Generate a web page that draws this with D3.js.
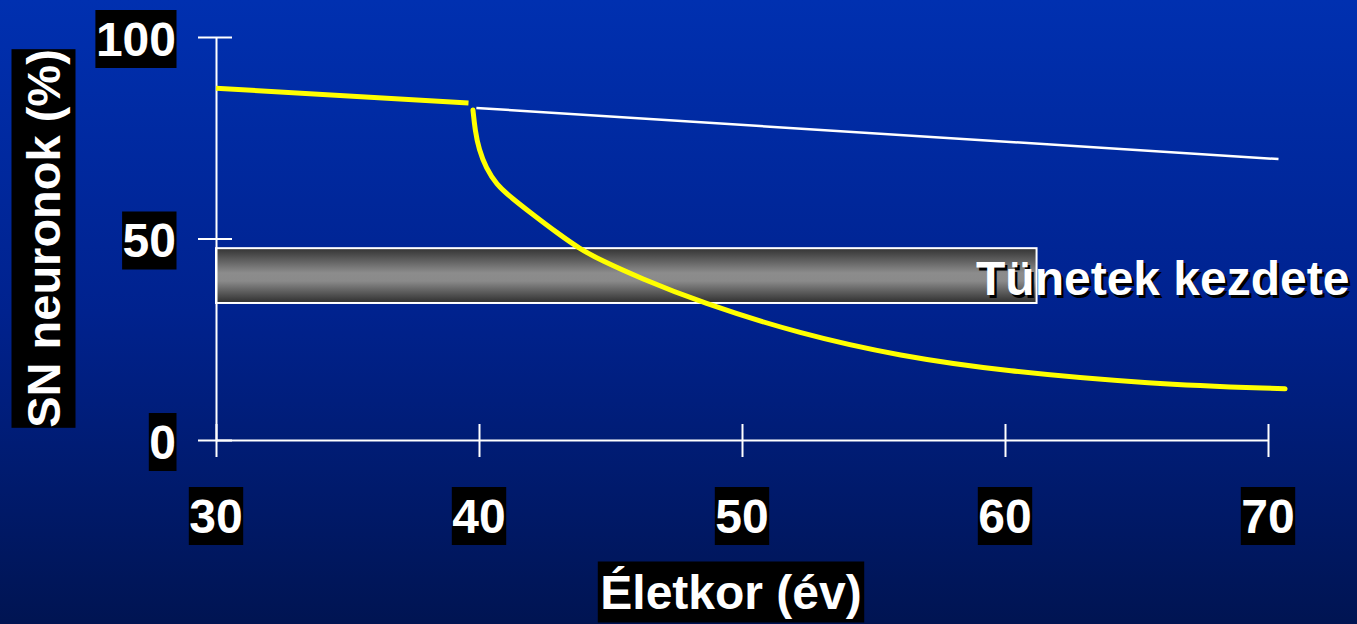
<!DOCTYPE html>
<html>
<head>
<meta charset="utf-8">
<script src="https://cdn.jsdelivr.net/npm/d3@7"></script>
<style>
  html, body { margin: 0; padding: 0; }
  svg { display: block; }
  text { font-family: "Liberation Sans", Arial, sans-serif; font-weight: bold; }
</style>
</head>
<body>
<div id="chart"></div>
<script>
const ageTicks = [30, 40, 50, 60, 70];
const pctTicks = [0, 50, 100];

// normal ageing before the split, then the healthy continuation
const earlyAge = [30, 39.6];
const earlyPct = [87.3, 83.6];
const agingAge = [39.9, 70.4];
const agingPct = [82.4, 69.7];

// accelerated loss curve
const pdAge = [39.77, 39.85, 40.0, 40.27, 40.65, 41.25, 42.02, 42.97, 43.84, 44.6, 46.12, 48.4, 52.21, 56.01, 59.96, 65.51, 70.65];
const pdPct = [81.9, 76.9, 72.0, 67.5, 63.5, 60.0, 56.1, 51.4, 47.4, 44.7, 40.2, 34.2, 26.3, 20.8, 17.1, 13.9, 12.7];

// symptom threshold band
const bandAge = [30, 61.2];
const bandPct = [34, 47.6];
const bandLabel = 'Tünetek kezdete';

const xTitle = 'Életkor (év)';
const yTitle = 'SN neuronok (%)';

const width = 1357;
const height = 624;

const svg = d3.select('#chart').append('svg').attr('width', width).attr('height', height);
const defs = svg.append('defs');

const bg = defs.append('linearGradient').attr('id', 'bg').attr('x1', 0).attr('y1', 0).attr('x2', 0).attr('y2', 1);
bg.append('stop').attr('offset', '0%').attr('stop-color', '#0030b0');
bg.append('stop').attr('offset', '50%').attr('stop-color', '#00228e');
bg.append('stop').attr('offset', '100%').attr('stop-color', '#001452');

const bandGrad = defs.append('linearGradient').attr('id', 'band').attr('x1', 0).attr('y1', 0).attr('x2', 0).attr('y2', 1);
bandGrad.append('stop').attr('offset', '0%').attr('stop-color', '#333333');
bandGrad.append('stop').attr('offset', '45%').attr('stop-color', '#8c8c8c');
bandGrad.append('stop').attr('offset', '60%').attr('stop-color', '#8a8a8a');
bandGrad.append('stop').attr('offset', '100%').attr('stop-color', '#2e2e2e');

svg.append('rect').attr('width', width).attr('height', height).attr('fill', 'url(#bg)');

const x = d3.scaleLinear().domain([30, 70]).range([216, 1268]);
const y = d3.scaleLinear().domain([0, 100]).range([440, 37]);

// band
svg.append('rect')
  .attr('x', x(bandAge[0]))
  .attr('y', y(bandPct[1]))
  .attr('width', x(bandAge[1]) - x(bandAge[0]))
  .attr('height', y(bandPct[0]) - y(bandPct[1]))
  .attr('fill', 'url(#band)')
  .attr('stroke', '#fff')
  .attr('stroke-width', 2);

// axes
const yAxis = svg.append('g')
  .attr('transform', `translate(${x(30)},0)`)
  .call(d3.axisLeft(y).tickValues(pctTicks).tickSizeOuter(0).tickFormat(''));
yAxis.selectAll('.tick line').attr('x1', -18).attr('x2', 16);

const xAxis = svg.append('g')
  .attr('transform', `translate(0,${y(0)})`)
  .call(d3.axisBottom(x).tickValues(ageTicks).tickSizeOuter(0).tickFormat(''));
xAxis.selectAll('.tick line').attr('y1', -16).attr('y2', 17);

svg.selectAll('.domain, .tick line').attr('stroke', '#fff').attr('stroke-width', 2);

function boxedText(parent, tx, ty, str, size, anchor, padX, padY, rotate) {
  const g = parent.append('g').attr('transform', `translate(${tx},${ty})${rotate ? ' rotate(-90)' : ''}`);
  const rect = g.append('rect').attr('fill', '#000');
  const t = g.append('text')
    .attr('text-anchor', anchor)
    .attr('dominant-baseline', 'central')
    .attr('font-size', size)
    .attr('fill', '#fff')
    .text(str);
  const b = t.node().getBBox();
  rect.attr('x', b.x - padX).attr('y', b.y - padY).attr('width', b.width + 2 * padX).attr('height', b.height + 2 * padY);
  return g;
}

pctTicks.forEach(v => boxedText(svg, 176, y(v) + 2, String(v), 48, 'end', 0.5, 2.5));
ageTicks.forEach(v => boxedText(svg, x(v), 516, String(v), 48, 'middle', 0.5, 2.5));
boxedText(svg, 731, 592, xTitle, 48, 'middle', 2.5, 4);
boxedText(svg, 43.5, 238.5, yTitle, 47, 'middle', 0, 5.5, true);

// lines
const line = d3.line().x(d => x(d[0])).y(d => y(d[1]));

svg.append('path')
  .datum(agingAge.map((a, i) => [a, agingPct[i]]))
  .attr('d', line)
  .attr('fill', 'none')
  .attr('stroke', '#fff')
  .attr('stroke-width', 2.5);

svg.append('path')
  .datum(earlyAge.map((a, i) => [a, earlyPct[i]]))
  .attr('d', line)
  .attr('fill', 'none')
  .attr('stroke', '#ffff00')
  .attr('stroke-width', 5);

svg.append('path')
  .datum(pdAge.map((a, i) => [a, pdPct[i]]))
  .attr('d', line.curve(d3.curveBasis))
  .attr('fill', 'none')
  .attr('stroke', '#ffff00')
  .attr('stroke-width', 5)
  .attr('stroke-linecap', 'round');

// band label with drop shadow
const lbl = svg.append('g').attr('font-size', 48);
lbl.append('text').attr('x', 978.5).attr('y', 297.5).attr('fill', '#000').text(bandLabel);
lbl.append('text').attr('x', 976).attr('y', 295).attr('fill', '#fff').text(bandLabel);
</script>
</body>
</html>
